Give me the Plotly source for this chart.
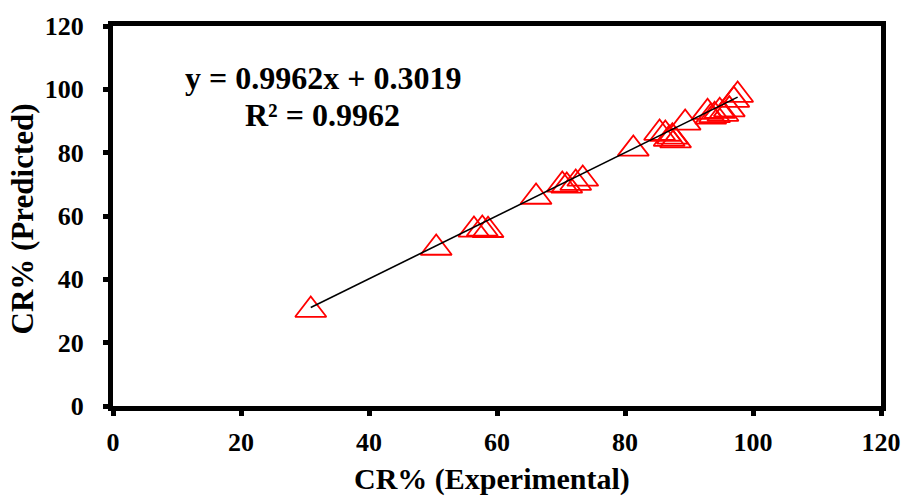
import plotly.graph_objects as go

x_experimental = [30.9, 50.5, 56.4, 57.7, 58.6, 66.1, 70.2, 70.9, 72.3, 73.4, 81.3,
                  85.4, 86.3, 86.9, 87.4, 87.9, 89.4, 92.9, 93.4, 94.0, 94.8, 95.3,
                  96.3, 97.0, 97.6]
y_predicted = [30.3, 49.9, 55.6, 55.9, 55.5, 66.0, 69.8, 69.5, 70.4, 71.7, 81.2,
               86.2, 85.9, 84.3, 85.0, 83.8, 89.4, 92.8, 91.3, 91.8, 93.1, 92.2,
               93.6, 96.6, 98.2]
slope = 0.9962
intercept = 0.3019
r_squared = 0.9962
tick_vals = [0, 20, 40, 60, 80, 100, 120]
x_title = "CR% (Experimental)"
y_title = "CR% (Predicted)"

FONT = "Liberation Serif"

x_line = [min(x_experimental), max(x_experimental)]
y_line = [slope * v + intercept for v in x_line]

fig = go.Figure()
fig.add_trace(go.Scatter(
    x=x_experimental, y=y_predicted, mode="markers",
    marker=dict(symbol="triangle-up-open", size=27, color="#FF0000",
                line=dict(width=1.8, color="#FF0000")),
    showlegend=False, hoverinfo="x+y"))
fig.add_trace(go.Scatter(
    x=x_line, y=y_line, mode="lines",
    line=dict(color="black", width=1.6), showlegend=False))

title_font = dict(family=FONT, size=30, color="black", weight="bold")
fig.add_annotation(x=32.8, y=103.6, xref="x", yref="y",
                   text=f"y = {slope}x + {intercept}", showarrow=False,
                   font=dict(family=FONT, size=32, color="black", weight="bold"))
fig.add_annotation(x=32.8, y=91.9, xref="x", yref="y",
                   text=f"R² = {r_squared}", showarrow=False,
                   font=dict(family=FONT, size=32, color="black", weight="bold"))
# axis titles
fig.add_annotation(x=0.4935, y=-0.192, xref="paper", yref="paper",
                   xanchor="center", yanchor="middle",
                   text=x_title, showarrow=False, font=title_font)
fig.add_annotation(x=-0.118, y=0.492, xref="paper", yref="paper",
                   xanchor="center", yanchor="middle", textangle=-90,
                   text=y_title, showarrow=False,
                   font=dict(family=FONT, size=31, color="black", weight="bold"))

axis_common = dict(
    range=[0, 120], tickvals=tick_vals, showgrid=False, zeroline=False,
    showline=True, linecolor="black", linewidth=5, mirror=True,
    ticks="outside", ticklen=5, tickwidth=5, tickcolor="black",
    automargin=False,
    tickfont=dict(family=FONT, size=26, color="black", weight="bold"),
)

fig.update_layout(
    width=904, height=497,
    margin=dict(l=113, r=23, t=26, b=91),
    paper_bgcolor="white", plot_bgcolor="white",
    xaxis=dict(**axis_common, ticklabelstandoff=4),
    yaxis=dict(**axis_common, ticklabelstandoff=14),
)

fig.write_html(
    "out.html",
    config={"displayModeBar": False},
    post_script="document.body.style.margin='0';document.body.style.overflow='hidden';",
)
